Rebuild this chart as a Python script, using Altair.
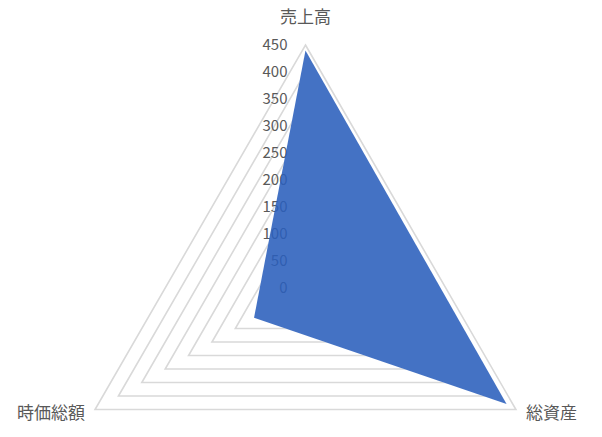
import altair as alt
import pandas as pd

categories = ["売上高", "総資産", "時価総額"]
values = [440, 430, 110]
ticks = [0, 50, 100, 150, 200, 250, 300, 350, 400, 450]

BLUE = "#2a5fbc"
GRID = "#d9d9d9"
TXT = "#595959"
FONT = "Noto Sans CJK JP"
n = len(categories)

grid_rows = [{"level": t, "k": k} for t in ticks[1:] for k in range(n)]
grid_df = pd.DataFrame(grid_rows)
data_df = pd.DataFrame({"cat": categories, "value": values, "k": list(range(n))})
tick_df = pd.DataFrame({"tick": ticks, "k": [0] * len(ticks)})
cat_df = pd.DataFrame({"cat": categories, "k": list(range(n)), "r": [ticks[-1]] * n})

xs = alt.Scale(domain=[-550.9, 534.3], nice=False, zero=False)
ys = alt.Scale(domain=[-261.1, 488.9], nice=False, zero=False)

def xy(r):
    return dict(
        px=f"datum.{r} * sin(2 * PI * datum.k / {n})",
        py=f"datum.{r} * cos(2 * PI * datum.k / {n})",
    )

X = alt.X("px:Q", scale=xs, axis=None)
Y = alt.Y("py:Q", scale=ys, axis=None)

grid = alt.Chart(grid_df).transform_calculate(**xy("level")).mark_line(
    interpolate="linear-closed", color=GRID, strokeWidth=1.6
).encode(x=X, y=Y, detail="level:N", order="k:Q")

base_area = alt.Chart(data_df).transform_calculate(**xy("value"))
mask = base_area.mark_line(
    interpolate="linear-closed", fill="white", fillOpacity=1, stroke="white", strokeOpacity=0.0
).encode(x=X, y=Y, order="k:Q")

tick_labels = alt.Chart(tick_df).transform_calculate(**xy("tick")).mark_text(
    align="right", baseline="middle", dx=-18, fontSize=15, font=FONT, color=TXT
).encode(x=X, y=Y, text="tick:Q")

area = base_area.mark_line(
    interpolate="linear-closed", fill=BLUE, fillOpacity=0.88, stroke=BLUE, strokeOpacity=0.0
).encode(x=X, y=Y, order="k:Q")

base_cat = alt.Chart(cat_df).transform_calculate(**xy("r"))
lab_top = base_cat.transform_filter("datum.k == 0").mark_text(
    align="center", baseline="middle", dy=-27, fontSize=17, font=FONT, color=TXT
).encode(x=X, y=Y, text="cat:N")
lab_right = base_cat.transform_filter("datum.k == 1").mark_text(
    align="left", baseline="middle", dx=10, dy=4, fontSize=17, font=FONT, color=TXT
).encode(x=X, y=Y, text="cat:N")
lab_left = base_cat.transform_filter("datum.k == 2").mark_text(
    align="right", baseline="middle", dx=-10, dy=4, fontSize=17, font=FONT, color=TXT
).encode(x=X, y=Y, text="cat:N")

chart = alt.layer(grid, mask, tick_labels, area, lab_top, lab_right, lab_left).properties(
    width=586, height=405, autosize=alt.AutoSizeParams(type="none"),
    padding={"left": 0, "top": 16, "right": 0, "bottom": 0}
).configure_view(stroke=None)

chart.save("out.html", embed_options={"renderer": "svg", "actions": False})
